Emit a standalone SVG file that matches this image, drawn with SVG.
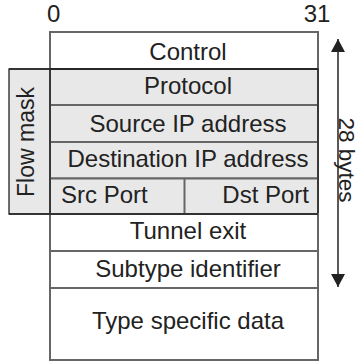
<svg xmlns="http://www.w3.org/2000/svg" width="359" height="362" viewBox="0 0 359 362">
  <style>
    .lbl { font-family: "Liberation Sans", Arial, sans-serif; font-size: 24px; fill: #222; }
    .mid { text-anchor: middle; }
    .row { stroke: #666; stroke-width: 2; }
    .white { fill: #ffffff; }
    .gray { fill: #e8e8e8; }
    .grp { fill: none; stroke: #222; stroke-width: 1.3; }
  </style>
  <defs>
    <marker id="arrow" viewBox="0 0 13 14" refX="13" refY="7" markerWidth="13" markerHeight="14" markerUnits="userSpaceOnUse" orient="auto-start-reverse">
      <path d="M0,0 L13,7 L0,14 z" fill="#222"/>
    </marker>
  </defs>
  <rect x="0" y="0" width="359" height="362" fill="#ffffff"/>

  <g id="bit-0"><text class="lbl" x="47" y="21.5">0</text></g>
  <g id="bit-31"><text class="lbl mid" x="317" y="22">31</text></g>

  <g id="flow-mask">
    <rect x="9" y="69" width="41" height="145" class="gray" stroke="#222" stroke-width="1.3"/>
    <text class="lbl mid" style="font-size:23px" transform="translate(34,142) rotate(-90)">Flow mask</text>
  </g>

  <g id="control">
    <rect x="50" y="32" width="268" height="37" class="white row"/>
    <text class="lbl mid" x="188" y="60">Control</text>
  </g>
  <g id="protocol">
    <rect x="50" y="69" width="268" height="36" class="gray row"/>
    <text class="lbl mid" x="188" y="94">Protocol</text>
  </g>
  <g id="source-ip">
    <rect x="50" y="105" width="268" height="37" class="gray row"/>
    <text class="lbl mid" x="188" y="131.5">Source IP address</text>
  </g>
  <g id="destination-ip">
    <rect x="50" y="142" width="268" height="36.5" class="gray row"/>
    <text class="lbl mid" x="188" y="166.5">Destination IP address</text>
  </g>
  <g id="ports">
    <rect x="50" y="178.5" width="268" height="35.5" class="gray row"/>
    <line x1="184.5" y1="178.5" x2="184.5" y2="214" class="row"/>
    <text class="lbl" x="61" y="203">Src Port</text>
    <text class="lbl" x="309" y="203" text-anchor="end">Dst Port</text>
  </g>
  <rect x="50" y="69" width="268" height="145" class="grp"/>
  <g id="tunnel-exit">
    <rect x="50" y="214" width="268" height="37" class="white row"/>
    <text class="lbl mid" x="188" y="239">Tunnel exit</text>
  </g>
  <g id="subtype-identifier">
    <rect x="50" y="251" width="268" height="37" class="white row"/>
    <text class="lbl mid" x="188" y="276.5">Subtype identifier</text>
  </g>
  <g id="type-specific-data">
    <rect x="50" y="288" width="268" height="72" class="white row"/>
    <text class="lbl mid" x="188" y="329">Type specific data</text>
  </g>
  <line x1="9" y1="69" x2="318" y2="69" stroke="#222" stroke-width="1.3"/>
  <line x1="9" y1="214" x2="318" y2="214" stroke="#222" stroke-width="1.3"/>

  <g id="connectors">
    <line x1="338" y1="39" x2="338" y2="287" stroke="#222" stroke-width="1.5" marker-start="url(#arrow)" marker-end="url(#arrow)"/>
    <text class="lbl mid" style="font-size:22.5px" transform="translate(339,160) rotate(90)">28 bytes</text>
  </g>
</svg>
